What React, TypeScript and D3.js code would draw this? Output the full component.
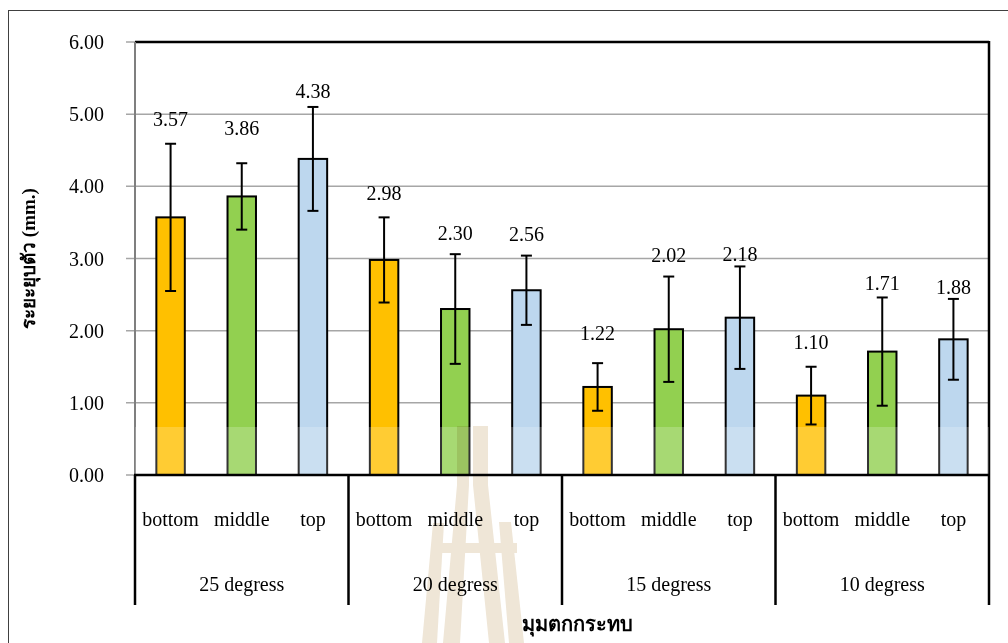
import React from "react";
import * as d3 from "d3";

const groups = ["25 degress", "20 degress", "15 degress", "10 degress"];
const positions = ["bottom", "middle", "top"];
const barColors = ["#FFC000", "#92D050", "#BDD7EE"];
const values = [3.57, 3.86, 4.38, 2.98, 2.3, 2.56, 1.22, 2.02, 2.18, 1.1, 1.71, 1.88];
const errors = [1.02, 0.46, 0.72, 0.59, 0.76, 0.48, 0.33, 0.73, 0.71, 0.4, 0.75, 0.56];
// label anchor heights (in value units) as placed in the original
const labelPos = [4.93, 4.81, 5.32, 3.91, 3.35, 3.34, 1.97, 3.05, 3.06, 1.84, 2.66, 2.6];
const yTicks = [0, 1, 2, 3, 4, 5, 6];
const yTitle = "ระยะยุบตัว (mm.)";
const xTitle = "มุมตกกระทบ";

const W = 1008;
const H = 643;
const left = 135;
const right = 989;
const top = 42;
const bottom = 475;
const serif = "'Liberation Serif', 'Times New Roman', serif";

export default function App() {
  const idx = values.map((_, i) => i);
  const x = d3.scaleBand<number>().domain(idx).range([left, right]).paddingInner(0.6).paddingOuter(0.3);
  const xg = d3.scaleBand<string>().domain(groups).range([left, right]).padding(0);
  const y = d3.scaleLinear().domain([0, 6]).range([bottom, top]);
  const bw = x.bandwidth();
  const cap = 5.5;
  const fmt = d3.format(".2f");

  return (
    <svg
      width={W}
      height={H}
      style={{ position: "absolute", left: 0, top: 0, background: "#fff" }}
      fontFamily={serif}
    >
      <rect x={8.5} y={10.5} width={1010} height={660} fill="#fff" stroke="#404040" strokeWidth={1} />
      {/* gridlines */}
      {yTicks.map((t) => (
        <line key={"g" + t} x1={126} x2={right} y1={y(t)} y2={y(t)} stroke="#A6A6A6" strokeWidth={1.5} />
      ))}
      {/* tick labels */}
      {yTicks.map((t) => (
        <text key={"t" + t} x={104} y={y(t)} textAnchor="end" dominantBaseline="central" fontSize={20} fill="#000">
          {fmt(t)}
        </text>
      ))}
      {/* bars */}
      {values.map((v, i) => (
        <rect
          key={"b" + i}
          x={x(i)!}
          y={y(v)}
          width={bw}
          height={bottom - y(v)}
          fill={barColors[i % 3]}
          stroke="#000"
          strokeWidth={2}
        />
      ))}
      {/* error bars */}
      {values.map((v, i) => {
        const cx = x(i)! + bw / 2;
        const y1 = y(v + errors[i]);
        const y2 = y(v - errors[i]);
        return (
          <g key={"e" + i} stroke="#000" strokeWidth={2}>
            <line x1={cx} x2={cx} y1={y1} y2={y2} />
            <line x1={cx - cap} x2={cx + cap} y1={y1} y2={y1} />
            <line x1={cx - cap} x2={cx + cap} y1={y2} y2={y2} />
          </g>
        );
      })}
      {/* plot border */}
      <line x1={left} x2={right} y1={top} y2={top} stroke="#000" strokeWidth={2.5} />
      <line x1={right} x2={right} y1={top - 1} y2={bottom} stroke="#000" strokeWidth={2.5} />
      <line x1={left} x2={left} y1={top} y2={bottom} stroke="#7F7F7F" strokeWidth={2} />
      {/* data labels */}
      {values.map((v, i) => (
        <text
          key={"l" + i}
          x={x(i)! + bw / 2}
          y={y(labelPos[i])}
          textAnchor="middle"
          dominantBaseline="central"
          fontSize={20}
          fill="#000"
        >
          {fmt(v)}
        </text>
      ))}
      {/* watermark wash */}
      <rect x={left} y={427} width={right - left} height={bottom - 427} fill="#fff" opacity={0.2} />
      <g fill="#EFE6D7" style={{ mixBlendMode: "multiply" }}>
        <polygon points="457,426 469,426 469,485 460,643 443,643 457,485" />
        <polygon points="473,426 488,426 488,485 505,643 489,643 473,485" />
        <polygon points="433,523 444,523 437,643 422,643" />
        <polygon points="499,522 511,522 524,643 509,643" />
        <rect x={437} y={543} width={80} height={10} />
      </g>
      {/* x axis */}
      <line x1={left - 1} x2={right + 1} y1={bottom} y2={bottom} stroke="#000" strokeWidth={2.5} />
      {[...groups.map((g) => xg(g)!), right].map((gx, i) => (
        <line key={"d" + i} x1={gx} x2={gx} y1={bottom} y2={605} stroke="#000" strokeWidth={2.5} />
      ))}
      {values.map((_, i) => (
        <text key={"c" + i} x={x(i)! + bw / 2} y={519} textAnchor="middle" dominantBaseline="central" fontSize={20} fill="#000">
          {positions[i % 3]}
        </text>
      ))}
      {groups.map((g) => (
        <text key={g} x={xg(g)! + xg.bandwidth() / 2} y={584} textAnchor="middle" dominantBaseline="central" fontSize={20} fill="#000">
          {g}
        </text>
      ))}
      {/* titles */}
      <text
        transform={`translate(28,${(top + bottom) / 2}) rotate(-90)`}
        textAnchor="middle"
        dominantBaseline="central"
        fontSize={19}
        fontWeight="bold"
        fill="#000"
      >
        {yTitle}
      </text>
      <text x={577} y={624} textAnchor="middle" dominantBaseline="central" fontSize={20} fontWeight="bold" fill="#000">
        {xTitle}
      </text>
    </svg>
  );
}
